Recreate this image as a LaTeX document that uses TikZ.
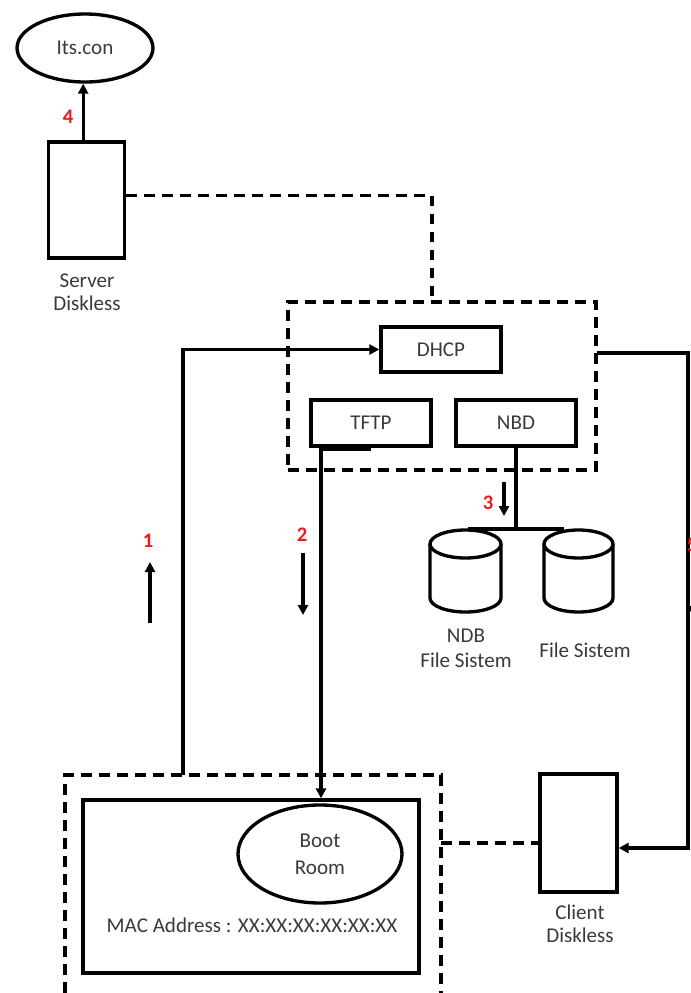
\documentclass[tikz,border=0pt]{standalone}
\usepackage{fontspec}
\setmainfont{Carlito}
\usetikzlibrary{arrows.meta,shapes.geometric}
\definecolor{txt}{HTML}{3A3A3A}
\definecolor{numred}{HTML}{F01818}
\begin{document}
\begin{tikzpicture}[x=0.75pt,y=-0.75pt,line width=2.5pt,
  every node/.style={font=\fontsize{15.8}{17.5}\selectfont,text=txt},
  solidbox/.style={draw,rectangle,inner sep=0pt},
  dashbox/.style={draw,rectangle,inner sep=0pt,dash pattern=on 8pt off 5.5pt},
  oval/.style={draw,ellipse,inner sep=0pt},
  dashline/.style={dash pattern=on 8pt off 5.5pt},
  arr/.style={-{Triangle[length=7.5pt,width=7.5pt]}},
  num/.style={text=numred,font=\fontsize{15.5}{17}\selectfont\bfseries},
  lbl/.style={align=center,inner sep=0pt}]
\useasboundingbox (0,0) rectangle (690,993);

% nodes
\node[oval,minimum width=102pt,minimum height=51pt] (its) at (85,48) {Its.con};
\node[solidbox,minimum width=57pt,minimum height=87pt] (server) at (86.5,200) {};
\node[lbl] (serverlbl) at (87,292) {Server\\Diskless};
\node[dashbox,minimum width=231pt,minimum height=126pt] (srv) at (442,386) {};
\node[solidbox,minimum width=90pt,minimum height=33.75pt] (dhcp) at (441,349.5) {DHCP};
\node[solidbox,minimum width=90pt,minimum height=34.5pt] (tftp) at (371,423) {TFTP};
\node[solidbox,minimum width=90pt,minimum height=34.5pt] (nbd) at (516,423) {NBD};
\node[solidbox,minimum width=57.75pt,minimum height=88.5pt] (client) at (578.5,833) {};
\node[lbl] (clientlbl) at (580,924) {Client\\Diskless};
\node[solidbox,minimum width=252pt,minimum height=129.75pt] (inner) at (251,886.5) {};
\node[oval,minimum width=123pt,minimum height=73.5pt,align=center] (boot) at (320,854) {Boot\\[2.5pt]Room};
\node[inner sep=0pt] (mac) at (252,925) {MAC Address : XX:XX:XX:XX:XX:XX};

% cylinders
\coordinate (cylA) at (465.5,544);
\coordinate (cylB) at (578.5,544);
\draw (430,544) -- (430,598) arc (180:0:35.5 and 14) -- (501,544);
\draw (cylA) ellipse (35.5 and 14);
\draw (544,544) -- (544,598) arc (180:0:34.5 and 14) -- (613,544);
\draw (cylB) ellipse (34.5 and 14);
\node[lbl] (ndblbl) at (466,648) {NDB\\[1pt]File Sistem};
\node[lbl] (fslbl) at (585,650) {File Sistem};

% bottom dashed frame (open at the bottom)
\coordinate (bl) at (65,993);
\coordinate (br) at (441,993);
\draw[dashline] (bl) -- (65,775) -- (441,775) -- (br);

% connectors
\draw[arr] ([xshift=-2.5pt]server.north) -- ([xshift=-2.5pt]server.north |- its.south);
\node[num] (n4) at (68,117) {4};
\draw[dashline] ([yshift=3.5pt]server.east) -- ([xshift=-7.5pt,yshift=3.5pt]server.east -| srv.north) -- ([xshift=-7.5pt]srv.north);

\coordinate (bt1) at (183,775);
\draw[arr] (bt1) |- (dhcp.west);

\draw[line width=3.4pt] ([xshift=-37.5pt,yshift=-1pt]tftp.south) -- ([yshift=-1pt]tftp.south);
\draw[arr] ([xshift=-37.5pt]tftp.south) -- ([xshift=-37.5pt]tftp.south |- inner.north);

\coordinate (split) at (516,529);
\draw (nbd.south) -- (split);
\draw (468,529) -- (564,529);

\coordinate (r1) at (597,353);
\draw[arr] (r1) -- (688,353) |- ([yshift=-11.25pt]client.east);
\draw[dashline] (441,843) -- ([yshift=-7.5pt]client.west);

% step arrows
\coordinate (a1s) at (150,623); \coordinate (a1e) at (150,562);
\draw[arr] (a1s) -- (a1e);
\node[num] (n1) at (148,541) {1};
\coordinate (a2s) at (303,553); \coordinate (a2e) at (303,615);
\draw[arr] (a2s) -- (a2e);
\node[num] (n2) at (302,535) {2};
\coordinate (a3s) at (504,482); \coordinate (a3e) at (504,516);
\draw[arr] (a3s) -- (a3e);
\node[num] (n3) at (488,503) {3};
\node[num] (n5) at (692,545) {5};
\coordinate (a5s) at (693,560); \coordinate (a5e) at (693,616);
\draw[arr] (a5s) -- (a5e);
\end{tikzpicture}
\end{document}
